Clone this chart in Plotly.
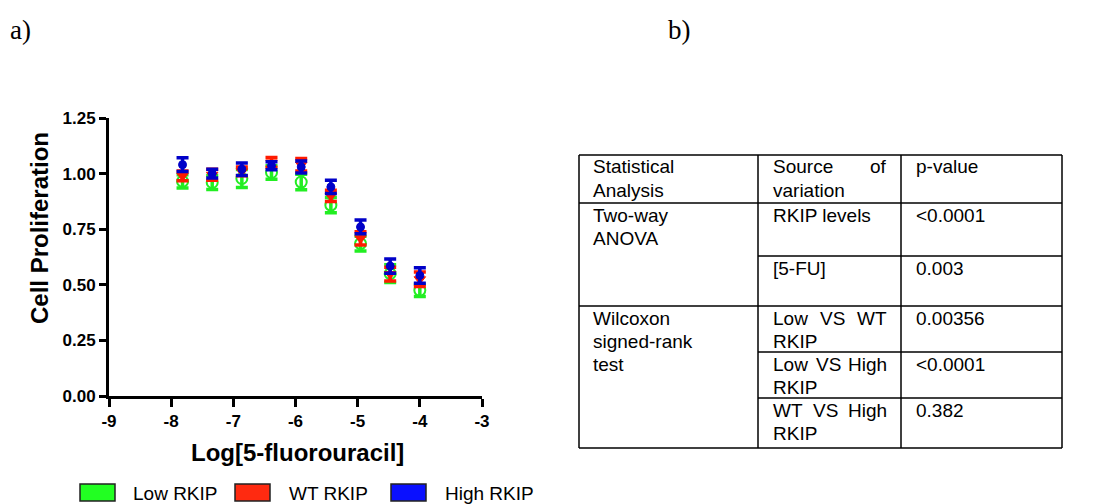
import plotly.graph_objects as go

# ---------------- data ----------------
log_conc = [-7.817, -7.340, -6.863, -6.386, -5.908, -5.431, -4.954, -4.477, -4.000]
low_mean = [0.965, 0.960, 0.978, 1.005, 0.962, 0.858, 0.685, 0.550, 0.475]
low_err = [0.030, 0.031, 0.040, 0.030, 0.035, 0.034, 0.033, 0.040, 0.028]
wt_mean = [0.990, 0.995, 1.010, 1.050, 1.040, 0.900, 0.709, 0.548, 0.525]
wt_err = [0.022, 0.025, 0.020, 0.022, 0.028, 0.025, 0.030, 0.031, 0.033]
high_mean = [1.040, 1.000, 1.020, 1.035, 1.030, 0.940, 0.760, 0.584, 0.542]
high_err = [0.031, 0.020, 0.028, 0.018, 0.027, 0.030, 0.031, 0.032, 0.035]

series_names = ["Low RKIP", "WT RKIP", "High RKIP"]
x_ticks = [-9, -8, -7, -6, -5, -4, -3]
y_ticks = [0.0, 0.25, 0.5, 0.75, 1.0, 1.25]

table_header = ["Statistical Analysis", "Source of variation", "p-value"]
table_tests = ["Two-way ANOVA", "Wilcoxon signed-rank test"]
table_sources = ["RKIP levels", "[5-FU]", "Low VS WT RKIP", "Low VS High RKIP", "WT VS High RKIP"]
table_pvalues = ["<0.0001", "0.003", "0.00356", "<0.0001", "0.382"]

# ---------------- figure ----------------
W, H = 1117, 504
def px(x):
    return x / W
def py(y):
    return 1 - y / H

GREEN = "#22ee22"
RED = "#ff1a00"
BLUE = "#0000c8"

fig = go.Figure()
styles = [
    (low_mean, low_err, GREEN, "circle-open", 11, 2),
    (wt_mean, wt_err, RED, "triangle-down", 10, 1),
    (high_mean, high_err, BLUE, "circle", 8, 1),
]
for name, (m, e, c, sym, sz, lw) in zip(series_names, styles):
    fig.add_trace(go.Scatter(
        x=log_conc, y=m, mode="markers", name=name, showlegend=False,
        marker=dict(symbol=sym, size=sz, color=c, line=dict(color=c, width=lw)),
        error_y=dict(type="data", array=e, visible=True, color=c, thickness=3.5, width=6),
    ))

AX_FONT = dict(family="Liberation Sans, Arial", size=17, color="black", weight="bold")
fig.update_xaxes(
    domain=[px(109), px(482)], range=[-9, -3], tickvals=x_ticks,
    ticktext=["<b>%d</b>" % t for t in x_ticks],
    showline=True, linecolor="black", linewidth=3, ticks="outside",
    ticklen=8, tickwidth=3, tickcolor="black", showgrid=False, zeroline=False,
    tickfont=AX_FONT, automargin=False,
)
fig.update_yaxes(
    domain=[py(396), py(118)], range=[0, 1.25], tickvals=y_ticks,
    ticktext=["<b>%.2f</b>" % t for t in y_ticks],
    showline=True, linecolor="black", linewidth=3, ticks="outside",
    ticklen=7, tickwidth=3, tickcolor="black", showgrid=False, zeroline=False,
    tickfont=AX_FONT, automargin=False,
)

ann = []
shapes = []
TITLE_FONT = dict(family="Liberation Sans, Arial", size=24, color="black")
ann.append(dict(text="<b>Log[5-fluorouracil]</b>", x=px(297), y=py(452), xref="paper", yref="paper",
                showarrow=False, xanchor="center", yanchor="middle", font=TITLE_FONT))
ann.append(dict(text="<b>Cell Proliferation</b>", x=px(40), y=py(228), xref="paper", yref="paper",
                showarrow=False, xanchor="center", yanchor="middle", textangle=-90, font=TITLE_FONT))

SERIF = dict(family="Liberation Serif, Times New Roman", size=27, color="black")
ann.append(dict(text="a)", x=px(8), y=py(30), xref="paper", yref="paper", showarrow=False,
                xanchor="left", yanchor="middle", font=SERIF))
ann.append(dict(text="b)", x=px(666), y=py(30), xref="paper", yref="paper", showarrow=False,
                xanchor="left", yanchor="middle", font=SERIF))

# legend (manual)
LEG_FONT = dict(family="Liberation Sans, Arial", size=19, color="black")
leg_colors = ["#22ff22", "#ff2a10", "#0a10ff"]
leg_box_x = [80, 235, 391]
leg_text_x = [131, 287, 443]
for name, c, bx, tx in zip(series_names, leg_colors, leg_box_x, leg_text_x):
    shapes.append(dict(type="rect", xref="paper", yref="paper", x0=px(bx), x1=px(bx + 35),
                       y0=py(501), y1=py(484), fillcolor=c, line=dict(color="#222222", width=1.5)))
    ann.append(dict(text=name, x=px(tx), y=py(493), xref="paper", yref="paper", showarrow=False,
                    xanchor="left", yanchor="middle", font=LEG_FONT))

# table
TL, C1, C2, TR = 579, 758, 901, 1062
rows = [155, 203, 256, 306, 352, 398, 448]
LW = 1.5
def hline(y, x0, x1):
    shapes.append(dict(type="line", xref="paper", yref="paper", x0=px(x0), x1=px(x1),
                       y0=py(y), y1=py(y), line=dict(color="black", width=LW)))
def vline(x, y0, y1):
    shapes.append(dict(type="line", xref="paper", yref="paper", x0=px(x), x1=px(x),
                       y0=py(y0), y1=py(y1), line=dict(color="black", width=LW)))
hline(155, TL, TR); hline(203, TL, TR); hline(306, TL, TR); hline(448, TL, TR)
hline(256, C1, TR); hline(352, C1, TR); hline(398, C1, TR)
for x in (TL, C1, C2, TR):
    vline(x, 155, 448)

TF = dict(family="Liberation Sans, Arial", size=19, color="black")
LINE = 23
def txt(s, x, y, anchor="left"):
    ann.append(dict(text=s, x=px(x), y=py(y), xref="paper", yref="paper", showarrow=False,
                    xanchor=anchor, yanchor="middle", font=TF))

def cell_lines(lines, x, top):
    for i, s in enumerate(lines):
        txt(s, x, top + 12 + i * LINE)

c1x, c2x, c3x = 591, 771, 914
c2r = 889
# header
cell_lines(table_header[0].split(" "), c1x, rows[0])
txt("Source", c2x, rows[0] + 12); txt("of", c2r, rows[0] + 12, "right")
txt("variation", c2x, rows[0] + 12 + LINE)
txt(table_header[2], c3x, rows[0] + 12)
# tests
cell_lines(["Two-way", "ANOVA"], c1x, rows[1])
cell_lines(["Wilcoxon", "signed-rank", "test"], c1x, rows[3])
# sources
txt(table_sources[0], c2x, rows[1] + 12)
txt(table_sources[1], c2x, rows[2] + 12)
for k, r in zip(range(2, 5), rows[3:6]):
    words = table_sources[k].split(" ")  # e.g. Low VS WT RKIP
    a, vs, b = words[0], words[1], words[2]
    txt(a, c2x, r + 12)
    txt(b, c2r, r + 12, "right")
    wa = {"Low": 35, "WT": 30}[a]
    wb = {"WT": 30, "High": 39}[b]
    txt(vs, (c2x + wa + c2r - wb) / 2, r + 12, "center")
    txt(words[3], c2x, r + 12 + LINE)
# p-values
for p, r in zip(table_pvalues, rows[1:6]):
    txt(p, c3x, r + 12)

fig.update_layout(
    width=W, height=H, margin=dict(l=0, r=0, t=0, b=0),
    paper_bgcolor="white", plot_bgcolor="white",
    annotations=ann, shapes=shapes, showlegend=False,
)
fig.write_html("out.html")
